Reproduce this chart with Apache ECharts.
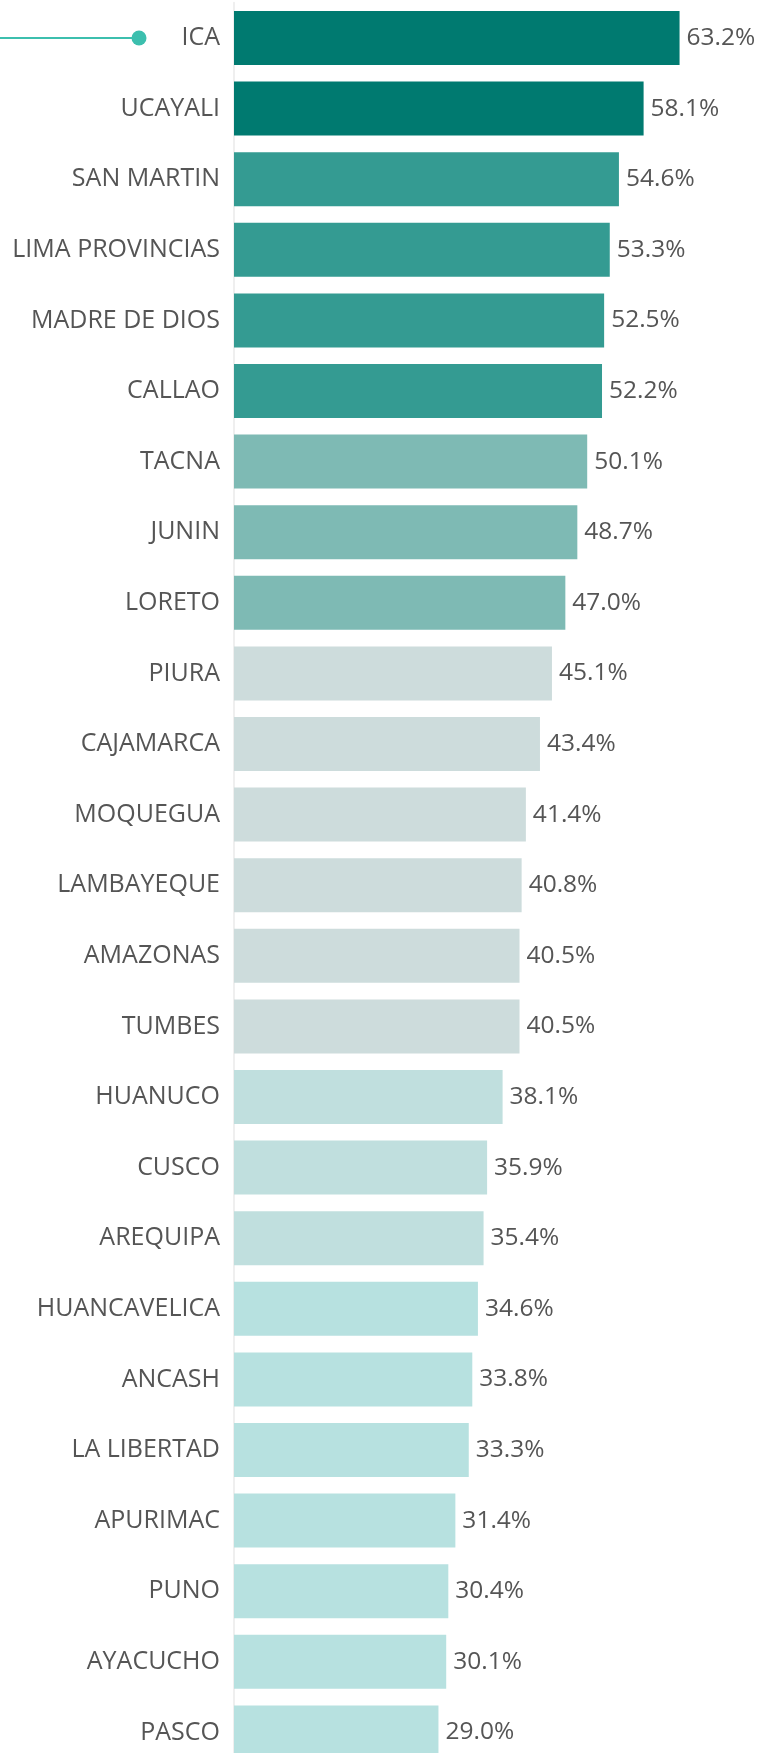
<!DOCTYPE html>
<html>
<head>
<meta charset="utf-8">
<script src="https://cdn.jsdelivr.net/npm/echarts@6/dist/echarts.min.js"></script>
<style>
  html, body { margin: 0; padding: 0; background: #fff; }
  #content { width: 758px; height: 1753px; }
</style>
</head>
<body>
<div id="content"></div>
<script>
// regiones, de mayor a menor
var regiones = ["ICA", "UCAYALI", "SAN MARTIN", "LIMA PROVINCIAS", "MADRE DE DIOS", "CALLAO",
    "TACNA", "JUNIN", "LORETO", "PIURA", "CAJAMARCA", "MOQUEGUA", "LAMBAYEQUE", "AMAZONAS",
    "TUMBES", "HUANUCO", "CUSCO", "AREQUIPA", "HUANCAVELICA", "ANCASH", "LA LIBERTAD",
    "APURIMAC", "PUNO", "AYACUCHO", "PASCO"];
var porcentajes = [63.2, 58.1, 54.6, 53.3, 52.5, 52.2, 50.1, 48.7, 47.0, 45.1, 43.4, 41.4,
    40.8, 40.5, 40.5, 38.1, 35.9, 35.4, 34.6, 33.8, 33.3, 31.4, 30.4, 30.1, 29.0];

// rangos de color (limite inferior -> color)
var limites = [55, 51, 46, 40, 35, 0];
var colores = ["#007a70", "#349b92", "#7ebab4", "#cddcdc", "#c0dfde", "#b7e1e0"];

function colorPara(v) {
    for (var i = 0; i < limites.length; i++) {
        if (v >= limites[i]) return colores[i];
    }
    return colores[colores.length - 1];
}

var fuente = "'Open Sans', 'Noto Sans', sans-serif";

var myChart = echarts.init(document.getElementById("content"));

myChart.setOption({
    animation: false,
    grid: {
        left: 234,
        top: 2.7,
        width: 528.75,
        height: 1765,
        containLabel: false,
        outerBoundsMode: "none"
    },
    xAxis: {
        type: "value",
        min: 0,
        max: 75,
        show: false
    },
    yAxis: {
        type: "category",
        inverse: true,
        data: regiones,
        axisLine: { show: true, lineStyle: { color: "#efefef", width: 2 } },
        axisTick: { show: false },
        axisLabel: {
            margin: 14,
            fontSize: 25,
            fontFamily: fuente,
            color: "#555555"
        }
    },
    series: [{
        type: "bar",
        barWidth: 54,
        clip: false,
        data: porcentajes.map(function(v) {
            return { value: v, itemStyle: { color: colorPara(v) } };
        }),
        label: {
            show: true,
            position: "right",
            distance: 7,
            fontSize: 24.5,
            fontFamily: fuente,
            color: "#555555",
            formatter: function(p) {
                return p.value.toFixed(1) + "%";
            }
        }
    }]
});

// linea guia hacia la primera region
var yIca = myChart.convertToPixel({ yAxisIndex: 0 }, regiones[0]);
myChart.setOption({
    graphic: [{
        type: "line",
        shape: { x1: 0, y1: yIca, x2: 139, y2: yIca },
        style: { stroke: "#3cbfae", lineWidth: 2 }
    }, {
        type: "circle",
        shape: { cx: 139, cy: yIca, r: 7.5 },
        style: { fill: "#3cbfae" }
    }]
});
</script>
</body>
</html>
